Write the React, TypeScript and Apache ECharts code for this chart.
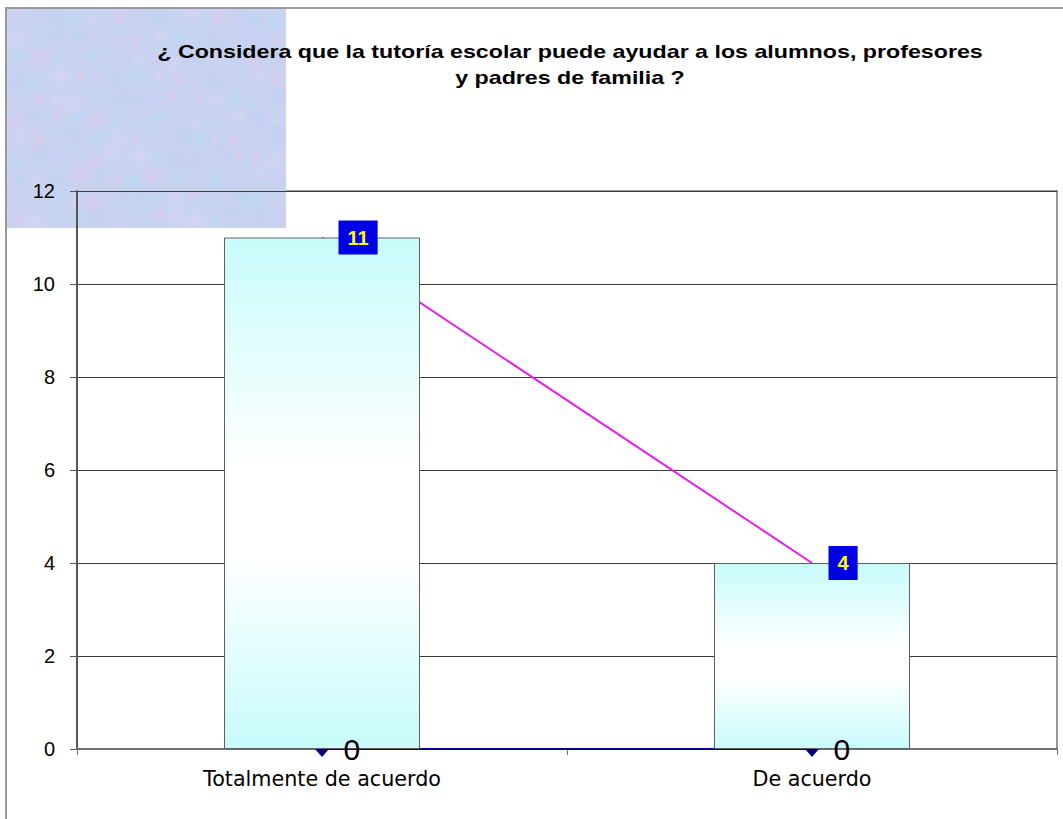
import React, { useEffect, useRef } from "react";
import * as echarts from "echarts";

const titleLines = [
  "¿ Considera que la tutoría escolar puede ayudar a los alumnos, profesores",
  "y padres de familia ?",
];
const categories = ["Totalmente de acuerdo", "De acuerdo"];
const barValues = [11, 4];
const trendValues = [11, 4];
const baseValues = [0, 0];
const yTicks = { min: 0, max: 12, interval: 2 };

// decorative mottled texture palette (not data)
const texColors = ["rgba(236,196,234,0.45)", "rgba(176,222,246,0.5)", "rgba(204,200,244,0.4)", "rgba(226,216,246,0.45)", "rgba(186,206,240,0.45)"];

export default function App() {
  const ref = useRef<HTMLDivElement>(null);
  useEffect(() => {
    document.body.style.margin = "0";
    const chart = echarts.init(ref.current!, null, { renderer: "svg" });
    const barGradient = new echarts.graphic.LinearGradient(0, 0, 0, 1, [
      { offset: 0, color: "#c8fbfb" },
      { offset: 0.45, color: "#ffffff" },
      { offset: 0.62, color: "#ffffff" },
      { offset: 1, color: "#c8fbfb" },
    ]);
    const texture: any[] = [
      {
        type: "rect",
        silent: true,
        shape: { x: 7, y: 9, width: 279, height: 219 },
        style: { fill: "#c8d3f0" },
      },
    ];
    const cols = 14;
    const rows = 11;
    for (let r = 0; r < rows; r++) {
      for (let c = 0; c < cols; c++) {
        const k = (r * 3 + c * 2 + ((r * c) % 3)) % texColors.length;
        const jx = ((r * 13 + c * 7) % 9) - 4;
        const jy = ((r * 5 + c * 11) % 9) - 4;
        const cx = 7 + (c + 0.5) * (279 / cols) + jx;
        const cy = 9 + (r + 0.5) * (219 / rows) + jy;
        const rad = 10 + ((r * 7 + c * 5) % 4) * 3;
        texture.push({
          type: "circle",
          silent: true,
          shape: { cx, cy, r: rad },
          style: {
            fill: new echarts.graphic.RadialGradient(0.5, 0.5, 0.5, [
              { offset: 0, color: texColors[k] },
              { offset: 1, color: "rgba(200,210,240,0)" },
            ]),
          },
        });
      }
    }
    const titleStyle = (text: string) => ({
      text,
      fontFamily: "Liberation Sans, Arial, sans-serif",
      fontWeight: "bold",
      fontSize: 18,
      fill: "#000",
      align: "center",
      verticalAlign: "middle",
    });
    const option: any = {
      animation: false,
      backgroundColor: "#ffffff",
      grid: {
        left: 77,
        right: 6,
        top: 191,
        bottom: 70,
        show: true,
        borderColor: "#9a9a9a",
        borderWidth: 2,
        backgroundColor: "transparent",
      },
      graphic: {
        elements: [
          {
            type: "group",
            z: -10,
            silent: true,
            clipPath: { type: "rect", shape: { x: 7, y: 9, width: 279, height: 219 } },
            children: texture,
          },
          {
            type: "rect",
            silent: true,
            z: 10,
            shape: { x: 6, y: 8, width: 1200, height: 1000 },
            style: { fill: "none", stroke: "#9a9a9a", lineWidth: 2 },
          },
          { type: "text", z: 20, x: 570, y: 52, scaleX: 1.29, style: titleStyle(titleLines[0]) },
          { type: "text", z: 20, x: 570, y: 78, scaleX: 1.29, style: titleStyle(titleLines[1]) },
        ],
      },
      xAxis: {
        type: "category",
        data: categories,
        boundaryGap: true,
        axisLine: { show: true, lineStyle: { color: "#707070", width: 2 } },
        axisTick: { show: true, length: 6, lineStyle: { color: "#707070" } },
        axisLabel: {
          color: "#000",
          fontFamily: "DejaVu Sans, sans-serif",
          fontSize: 20.7,
          margin: 19,
        },
        splitLine: { show: false },
      },
      yAxis: {
        type: "value",
        min: yTicks.min,
        max: yTicks.max,
        interval: yTicks.interval,
        axisLine: { show: true, lineStyle: { color: "#555", width: 2 } },
        axisTick: { show: true, length: 7, lineStyle: { color: "#555" } },
        axisLabel: {
          color: "#000",
          fontFamily: "Liberation Sans, Arial, sans-serif",
          fontSize: 20,
          margin: 22,
        },
        splitLine: { show: true, lineStyle: { color: "#3c3c3c", width: 1 } },
      },
      series: [
        {
          type: "line",
          name: "trend",
          z: 1,
          data: trendValues,
          symbol: "none",
          lineStyle: { color: "#e61ee6", width: 2 },
        },
        {
          type: "line",
          name: "base",
          z: 1,
          data: baseValues,
          symbol: "diamond",
          symbolSize: [14, 16],
          itemStyle: { color: "#000080" },
          lineStyle: { color: "#000080", width: 2 },
        },
        {
          type: "bar",
          name: "valores",
          z: 2,
          data: barValues,
          barWidth: "40%",
          itemStyle: {
            color: barGradient,
            borderColor: "#606060",
            borderWidth: 1,
          },
        },
        {
          type: "scatter",
          name: "trendLabels",
          z: 6,
          data: trendValues,
          symbolSize: 1,
          itemStyle: { color: "rgba(0,0,0,0)", opacity: 1 },
          label: {
            show: true,
            position: "right",
            distance: 16,
            opacity: 1,
            formatter: (p: any) => String(p.value),
            backgroundColor: "#0000e6",
            color: "#ffff00",
            fontFamily: "Liberation Sans, Arial, sans-serif",
            fontWeight: "bold",
            fontSize: 20,
            padding: [7, 9, 7, 9],
          },
        },
        {
          type: "scatter",
          name: "baseLabels",
          z: 6,
          data: baseValues,
          symbolSize: 1,
          itemStyle: { color: "rgba(0,0,0,0)", opacity: 1 },
          label: {
            show: true,
            position: "right",
            distance: 21,
            opacity: 1,
            formatter: (p: any) => String(p.value),
            color: "#000",
            fontFamily: "Liberation Sans, Arial, sans-serif",
            fontSize: 30,
          },
        },
      ],
    };
    chart.setOption(option);
    return () => chart.dispose();
  }, []);
  return <div ref={ref} style={{ width: 1063, height: 819 }} />;
}
